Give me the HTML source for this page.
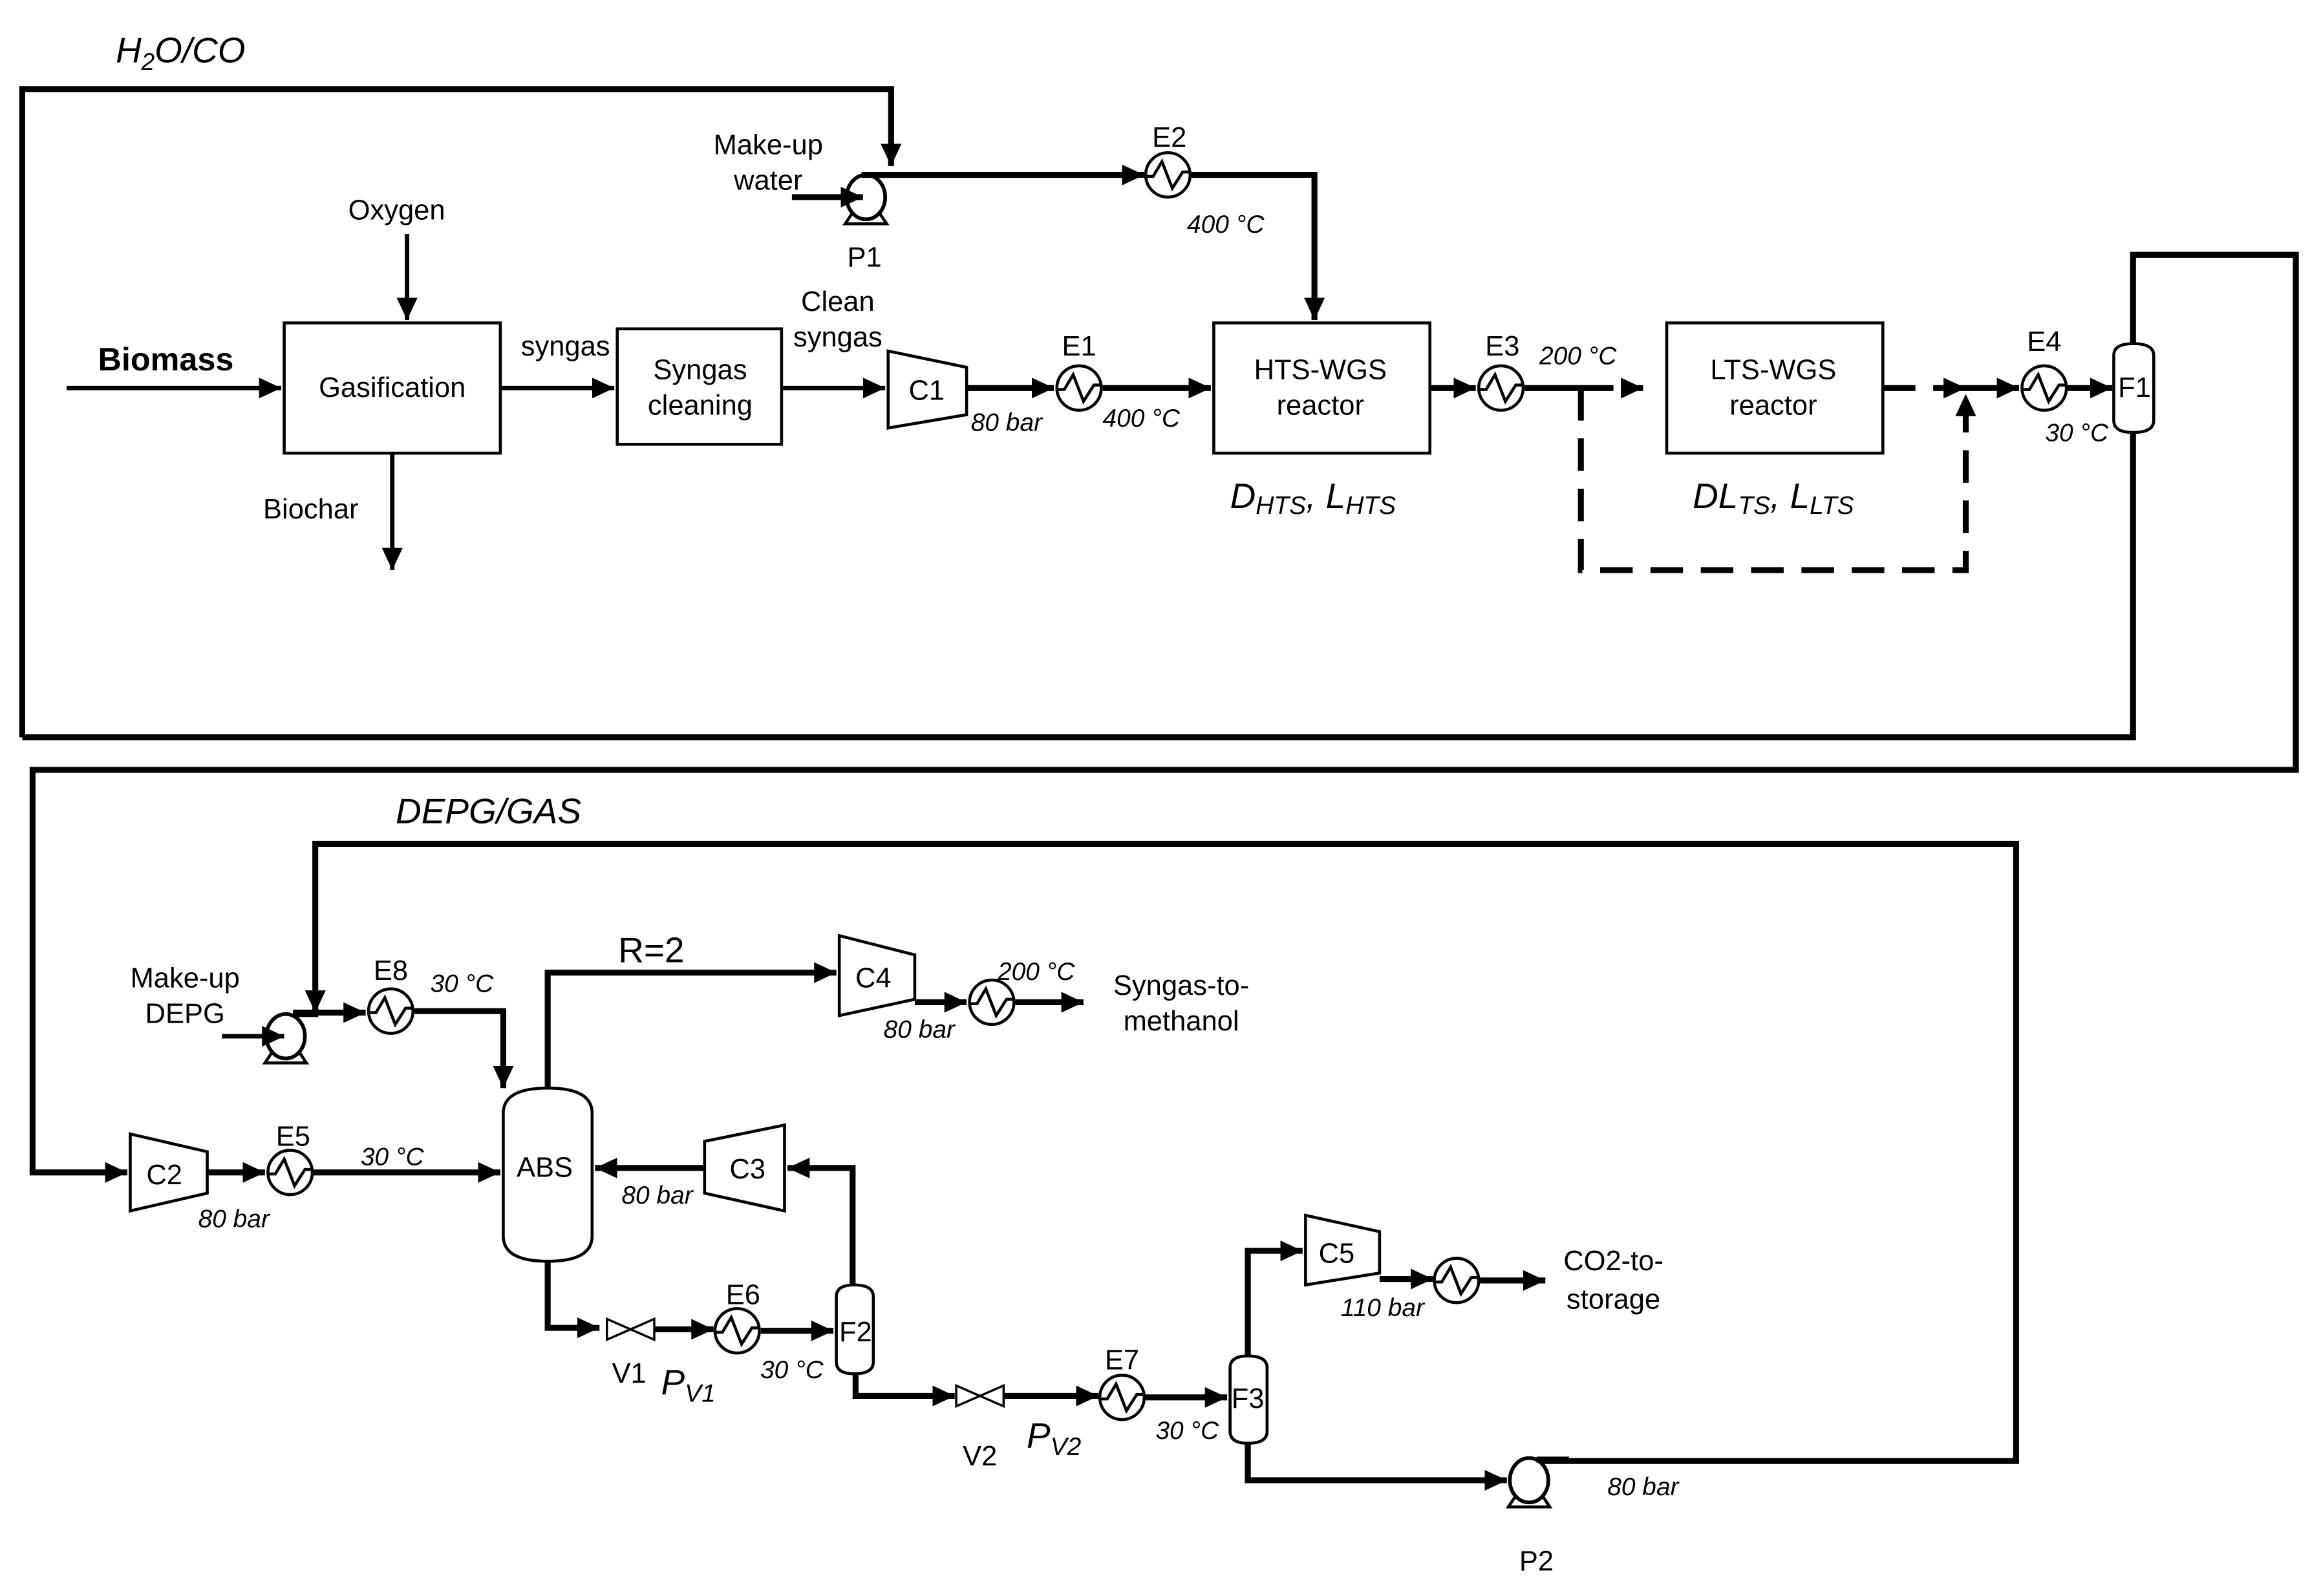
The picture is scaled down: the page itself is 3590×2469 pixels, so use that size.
<!DOCTYPE html>
<html><head><meta charset="utf-8"><style>
html,body{margin:0;padding:0;background:#fff}
svg{display:block}
text{font-family:"Liberation Sans",Arial,sans-serif;fill:#000}
.i{font-style:italic}
</style></head><body>
<svg width="3590" height="2469" viewBox="0 0 1568 1078" xmlns="http://www.w3.org/2000/svg">
<defs>
<marker id="a" markerUnits="userSpaceOnUse" markerWidth="16" markerHeight="14" refX="15" refY="7" orient="auto"><path d="M0,0 L15,7 L0,14 z" fill="#000"/></marker>
<g id="hx"><circle r="15" fill="#fff" stroke="#000" stroke-width="2"/><path d="M-15,1 L-10,1 L-4,-9 L3,9 L10,-2 L15,-2" fill="none" stroke="#000" stroke-width="2"/></g>
<g id="pump"><path d="M-14,18 L14,18 L8,9 L-8,9 z" fill="#fff" stroke="#000" stroke-width="2"/><ellipse rx="13" ry="15" fill="#fff" stroke="#000" stroke-width="2.5"/></g>
<g id="valve"><path d="M0,-7 L0,7 L32,-7 L32,7 z" fill="#fff" stroke="#000" stroke-width="1.5"/></g>
</defs>
<g fill="none" stroke="#000" stroke-width="4">
<polyline points="15,498 15,60 602,60 602,112" marker-end="url(#a)"/>
<polyline points="1441,290 1441,498 15,498"/>
<polyline points="1441,234 1441,172 1551,172 1551,520 22,520 22,792 86,792" marker-end="url(#a)"/>
<line x1="582" y1="118" x2="773" y2="118" marker-end="url(#a)"/>
<polyline points="805,118 888,118 888,216" marker-end="url(#a)"/>
<line x1="275" y1="158" x2="275" y2="216" marker-end="url(#a)" stroke-width="3"/>
<line x1="45" y1="262" x2="190" y2="262" marker-end="url(#a)" stroke-width="3"/>
<line x1="265" y1="306" x2="265" y2="385" marker-end="url(#a)" stroke-width="3"/>
<line x1="338" y1="262" x2="415" y2="262" marker-end="url(#a)" stroke-width="3"/>
<line x1="528" y1="262" x2="598" y2="262" marker-end="url(#a)" stroke-width="3"/>
<line x1="653" y1="262" x2="712" y2="262" marker-end="url(#a)"/>
<line x1="745" y1="262" x2="818" y2="262" marker-end="url(#a)"/>
<line x1="966" y1="262" x2="997" y2="262" marker-end="url(#a)"/>
<line x1="1030" y1="262" x2="1068" y2="262"/>
<line x1="1068" y1="262" x2="1110" y2="262" stroke-dasharray="22 12" marker-end="url(#a)"/>
<polyline points="1068,262 1068,385 1328,385 1328,266" stroke-dasharray="22 12" marker-end="url(#a)"/>
<line x1="1272" y1="262" x2="1328" y2="262" stroke-dasharray="22 12" marker-end="url(#a)"/>
<line x1="1328" y1="262" x2="1364" y2="262" marker-end="url(#a)"/>
<line x1="1397" y1="262" x2="1427" y2="262" marker-end="url(#a)"/>
<polyline points="1040,987 1362,987 1362,570 213,570 213,684" marker-end="url(#a)"/>
<line x1="198" y1="684" x2="247" y2="684" marker-end="url(#a)"/>
<polyline points="280,683 340,683 340,735" marker-end="url(#a)"/>
<polyline points="370,735 370,657 565,657" marker-end="url(#a)"/>
<line x1="618" y1="677" x2="653" y2="677" marker-end="url(#a)"/>
<line x1="686" y1="677" x2="732" y2="677" marker-end="url(#a)"/>
<line x1="140" y1="792" x2="179" y2="792" marker-end="url(#a)"/>
<line x1="212" y1="792" x2="338" y2="792" marker-end="url(#a)"/>
<line x1="476" y1="789" x2="402" y2="789" marker-end="url(#a)"/>
<polyline points="576,868 576,789 532,789" marker-end="url(#a)"/>
<polyline points="370,852 370,897 405,897" marker-end="url(#a)"/>
<line x1="442" y1="898" x2="482" y2="898" marker-end="url(#a)"/>
<line x1="514" y1="899" x2="563" y2="899" marker-end="url(#a)"/>
<polyline points="578,928 578,943 645,943" marker-end="url(#a)"/>
<line x1="678" y1="943" x2="742" y2="943" marker-end="url(#a)"/>
<line x1="774" y1="944" x2="829" y2="944" marker-end="url(#a)"/>
<polyline points="843,916 843,845 880,845" marker-end="url(#a)"/>
<line x1="932" y1="864" x2="968" y2="864" marker-end="url(#a)"/>
<line x1="1000" y1="865" x2="1044" y2="865" marker-end="url(#a)"/>
<polyline points="843,975 843,1000 1018,1000" marker-end="url(#a)"/>
</g>
<g fill="#fff" stroke="#000" stroke-width="2">
<rect x="192" y="218" width="146" height="88"/>
<rect x="417" y="222" width="111" height="78"/>
<rect x="820" y="218" width="146" height="88"/>
<rect x="1126" y="218" width="146" height="88"/>
<path d="M600,237 L653,248 L653,280 L600,289 z"/>
<path d="M88,766 L140,778 L140,806 L88,818 z"/>
<path d="M567,632 L618,645 L618,675 L567,686 z"/>
<path d="M476,771 L530,760 L530,818 L476,806 z"/>
<path d="M882,821 L932,832 L932,860 L882,868 z"/>
<path d="M340,752 Q340,735 370,735 Q400,735 400,752 L400,835 Q400,852 370,852 Q340,852 340,835 z"/>
<path d="M1428,240 Q1428,232 1441,232 Q1455,232 1455,240 L1455,284 Q1455,292 1441,292 Q1428,292 1428,284 z"/>
<path d="M565,876 Q565,868 577,868 Q590,868 590,876 L590,920 Q590,928 577,928 Q565,928 565,920 z"/>
<path d="M831,924 Q831,916 843,916 Q856,916 856,924 L856,967 Q856,975 843,975 Q831,975 831,967 z"/>
</g>
<use href="#pump" x="585" y="133"/>
<line x1="535" y1="133" x2="583" y2="133" stroke="#000" stroke-width="4" marker-end="url(#a)"/>
<line x1="582" y1="118" x2="600" y2="118" stroke="#000" stroke-width="4"/>
<use href="#pump" x="193" y="700"/>
<line x1="150" y1="700" x2="192" y2="700" stroke="#000" stroke-width="3" marker-end="url(#a)"/>
<line x1="198" y1="685" x2="215" y2="685" stroke="#000" stroke-width="4"/>
<use href="#pump" x="1033" y="1000"/>
<line x1="1038" y1="986" x2="1060" y2="986" stroke="#000" stroke-width="4"/>
<use href="#hx" x="789" y="118"/>
<use href="#hx" x="729" y="262"/>
<use href="#hx" x="1014" y="262"/>
<use href="#hx" x="1381" y="262"/>
<use href="#hx" x="264" y="683"/>
<use href="#hx" x="670" y="677"/>
<use href="#hx" x="196" y="792"/>
<use href="#hx" x="498" y="899"/>
<use href="#hx" x="758" y="944"/>
<use href="#hx" x="984" y="865"/>
<use href="#valve" x="410" y="898"/>
<use href="#valve" x="646" y="943"/>
<g font-size="19" text-anchor="middle">
<text class="i" x="122" y="42" font-size="24">H<tspan font-size="16" dy="5">2</tspan><tspan dy="-5">O/CO</tspan></text>
<text x="519" y="104">Make-up</text><text x="519" y="128">water</text>
<text x="584" y="180">P1</text>
<text x="790" y="99">E2</text>
<text class="i" x="828" y="157" font-size="17">400 °C</text>
<text x="268" y="148">Oxygen</text>
<text x="112" y="250" font-size="22" font-weight="bold">Biomass</text>
<text x="265" y="268">Gasification</text>
<text x="210" y="350">Biochar</text>
<text x="382" y="240">syngas</text>
<text x="473" y="256">Syngas</text><text x="473" y="280">cleaning</text>
<text x="566" y="210">Clean</text><text x="566" y="234">syngas</text>
<text x="626" y="270">C1</text>
<text x="729" y="240">E1</text>
<text class="i" x="680" y="291" font-size="17">80 bar</text>
<text class="i" x="771" y="288" font-size="17">400 °C</text>
<text x="892" y="256">HTS-WGS</text><text x="892" y="280">reactor</text>
<text class="i" x="887" y="343" font-size="24">D<tspan font-size="17" dy="4">HTS</tspan><tspan dy="-4">, L</tspan><tspan font-size="17" dy="4">HTS</tspan></text>
<text x="1015" y="240">E3</text>
<text class="i" x="1066" y="246" font-size="17">200 °C</text>
<text x="1198" y="256">LTS-WGS</text><text x="1198" y="280">reactor</text>
<text class="i" x="1198" y="343" font-size="24">DL<tspan font-size="17" dy="4">TS</tspan><tspan dy="-4">, L</tspan><tspan font-size="17" dy="4">LTS</tspan></text>
<text x="1381" y="237">E4</text>
<text class="i" x="1403" y="298" font-size="17">30 °C</text>
<text x="1442" y="268">F1</text>
<text class="i" x="330" y="556" font-size="24">DEPG/GAS</text>
<text x="125" y="667">Make-up</text><text x="125" y="691">DEPG</text>
<text x="264" y="662">E8</text>
<text class="i" x="312" y="670" font-size="17">30 °C</text>
<text x="440" y="650" font-size="24">R=2</text>
<text x="590" y="667">C4</text>
<text class="i" x="621" y="701" font-size="17">80 bar</text>
<text class="i" x="700" y="662" font-size="17">200 °C</text>
<text x="798" y="672">Syngas-to-</text><text x="798" y="696">methanol</text>
<text x="111" y="800">C2</text>
<text x="198" y="774">E5</text>
<text class="i" x="158" y="829" font-size="17">80 bar</text>
<text class="i" x="265" y="787" font-size="17">30 °C</text>
<text x="368" y="795">ABS</text>
<text x="505" y="796">C3</text>
<text class="i" x="444" y="813" font-size="17">80 bar</text>
<text x="425" y="934">V1</text>
<text class="i" x="465" y="942" font-size="24">P<tspan font-size="17" dy="5">V1</tspan></text>
<text x="502" y="881">E6</text>
<text class="i" x="535" y="931" font-size="17">30 °C</text>
<text x="578" y="906">F2</text>
<text x="662" y="990">V2</text>
<text class="i" x="712" y="978" font-size="24">P<tspan font-size="17" dy="5">V2</tspan></text>
<text x="758" y="925">E7</text>
<text class="i" x="802" y="972" font-size="17">30 °C</text>
<text x="843" y="951">F3</text>
<text x="903" y="853">C5</text>
<text class="i" x="934" y="889" font-size="17">110 bar</text>
<text x="1090" y="858">CO2-to-</text><text x="1090" y="884">storage</text>
<text class="i" x="1110" y="1010" font-size="17">80 bar</text>
<text x="1038" y="1061">P2</text>
</g>
</svg>
</body></html>
